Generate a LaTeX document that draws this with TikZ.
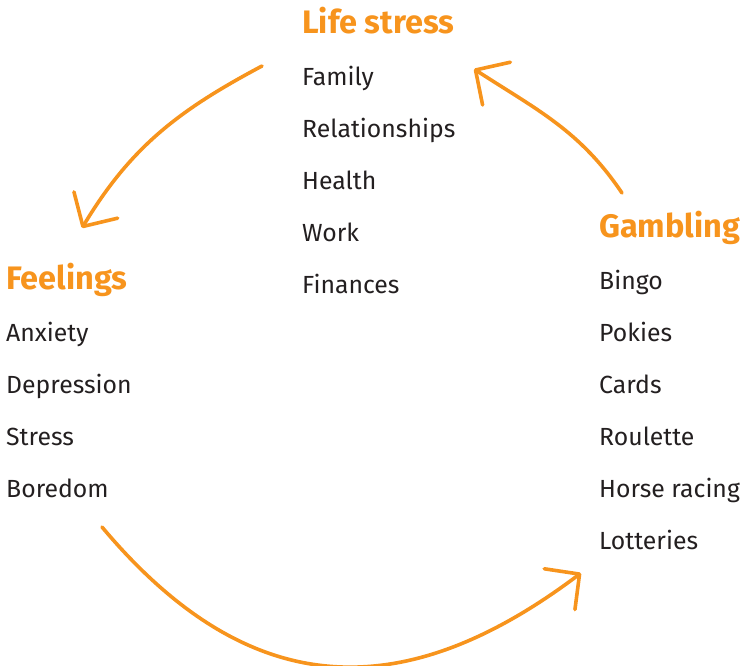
\documentclass[tikz,border=0pt]{standalone}
\usepackage{fontspec}
\setmainfont{Fira Sans}
\usetikzlibrary{arrows.meta}
\definecolor{cycleorange}{HTML}{F7941D}
\definecolor{itemgray}{HTML}{231F20}
\tikzset{
  heading/.style={anchor=base west, inner sep=0pt, text=cycleorange,
    font=\fontsize{32.5}{38}\selectfont\bfseries},
  item/.style={anchor=base west, inner sep=0pt, text=itemgray,
    font=\fontsize{24.8}{29}\selectfont},
  cyclearrow/.style={draw=cycleorange, line width=3.6pt, line cap=round,
    -{Straight Barb[length=25pt,width=51pt,round]}}
}
\begin{document}
\begin{tikzpicture}[x=1pt,y=1pt]
        \useasboundingbox (0,0) rectangle (743,-665);
        % headings
        \node [heading] (lifestress) at (302,-33) {Life stress};
        \node [heading] (feelings) at (6,-289) {Feelings};
        \node [heading] (gambling) at (599,-237) {Gambling};
        % lists
        \foreach \txt [count=\i] in {Family,Relationships,Health,Work,Finances}
            \node [item] (stress\i) at (302,-34-51-52*\i+52) {\txt};
        \foreach \txt [count=\i] in {Anxiety,Depression,Stress,Boredom}
            \node [item] (feel\i) at (6,-290-51-52*\i+52) {\txt};
        \foreach \txt [count=\i] in {Bingo,Pokies,Cards,Roulette,Horse racing,Lotteries}
            \node [item] (gamb\i) at (599,-238-51-52*\i+52) {\txt};
        % arrow ends
        \coordinate (stress-out) at (262,-66);
        \coordinate (feel-in) at (82,-228);
        \coordinate (feel-out) at (102,-527);
        \coordinate (gamb-in) at (581,-573);
        \coordinate (gamb-out) at (622,-193);
        \coordinate (stress-in) at (474,-69);
        \draw [cyclearrow] (stress-out) to[out=208,in=59] (feel-in);
        \draw [cyclearrow] (feel-out) to[out=-50,in=217,looseness=1.2] (gamb-in);
        \draw [cyclearrow] (gamb-out) to[out=124,in=-33] (stress-in);
    \end{tikzpicture}
\end{document}
